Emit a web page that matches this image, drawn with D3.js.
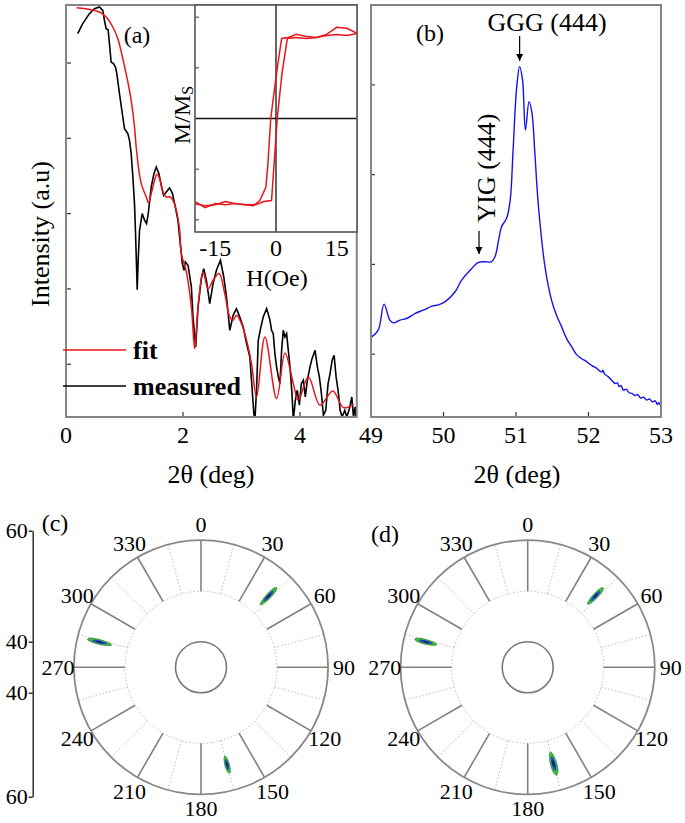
<!DOCTYPE html>
<html><head><meta charset="utf-8">
<script src="https://cdn.jsdelivr.net/npm/d3@7"></script>
<style>
body{margin:0;background:#fff;}
text{font-family:"Liberation Serif","Times New Roman",serif;fill:#000;}
</style></head>
<body><svg id="fig" width="685" height="823"></svg>
<script>
// ---------- DATA ----------
// Panel (a): X-ray reflectivity, 2θ (deg) vs log intensity
const fitX = [0.183,0.429,0.571,0.686,0.800,0.886,0.971,1.057,1.114,1.171,1.200,1.246,1.286,1.371,1.411,1.457,1.514,1.554,1.600,1.657,1.714,1.783,1.829,1.886,1.943,1.971,2.057,2.143,2.200,2.257,2.343,2.429,2.514,2.617,2.714,2.800,2.857,2.914,3.000,3.086,3.171,3.257,3.400,3.600,3.743,3.886,3.971,4.143,4.343,4.560,4.743,4.914];
const fitY = [5.735,5.708,5.677,5.611,5.478,5.323,5.058,4.748,4.504,4.150,3.885,3.575,3.398,3.221,3.146,3.265,3.442,3.522,3.465,3.288,3.221,3.221,3.177,3.044,2.779,2.469,2.226,1.761,1.208,1.761,2.226,2.004,2.115,2.204,1.938,1.628,1.584,1.650,1.540,1.319,1.009,0.566,1.363,0.544,1.150,0.743,0.522,0.832,0.456,0.646,0.425,0.469];
const measX = [0.200,0.286,0.400,0.486,0.571,0.629,0.657,0.686,0.720,0.743,0.771,0.811,0.846,0.869,0.914,0.971,1.000,1.057,1.086,1.114,1.143,1.171,1.189,1.206,1.217,1.234,1.257,1.303,1.343,1.377,1.406,1.457,1.503,1.543,1.589,1.629,1.669,1.714,1.771,1.817,1.857,1.914,1.954,1.989,2.017,2.040,2.086,2.143,2.171,2.217,2.257,2.314,2.354,2.400,2.457,2.514,2.571,2.640,2.697,2.743,2.800,2.857,2.914,2.971,3.029,3.086,3.143,3.171,3.211,3.229,3.257,3.286,3.326,3.371,3.429,3.463,3.486,3.514,3.543,3.571,3.600,3.629,3.657,3.686,3.714,3.743,3.771,3.800,3.829,3.863,3.886,3.920,3.954,3.989,4.023,4.057,4.091,4.126,4.171,4.206,4.257,4.297,4.331,4.366,4.400,4.440,4.480,4.514,4.549,4.583,4.617,4.651,4.686,4.720,4.766,4.800,4.846,4.886,4.914,4.943,4.960];
const measY = [5.389,5.522,5.655,5.721,5.743,5.699,5.566,5.456,5.442,5.257,5.013,4.991,4.947,4.858,4.593,4.283,4.128,4.062,3.973,3.796,3.487,3.133,2.735,2.292,1.991,2.381,2.779,3.000,2.912,2.867,3.000,3.354,3.531,3.619,3.531,3.376,3.243,3.288,3.341,3.274,3.133,2.912,2.602,2.336,2.248,2.358,2.314,2.027,1.628,1.230,1.761,2.137,2.270,2.115,1.805,2.071,2.248,2.381,2.159,1.894,1.451,1.650,1.739,1.628,1.496,1.274,1.097,0.788,0.345,0.257,0.655,1.319,1.473,1.628,1.739,1.650,1.584,1.451,1.407,1.142,0.965,0.832,0.743,1.186,1.451,1.363,1.407,1.186,0.965,0.611,0.257,0.522,0.655,0.456,0.743,0.788,0.566,0.788,0.965,1.075,1.186,0.965,0.832,0.611,0.323,0.389,0.743,0.876,1.053,1.119,0.832,0.655,0.389,0.301,0.389,0.301,0.412,0.566,0.301,0.434,0.257];
const aTicksX = [0, 2, 4];
const aTicksY = [1, 2, 3, 4, 5];

// Inset: hysteresis loop H (Oe) vs M/Ms
const descH = [20,17.5,15,12.5,10,7.5,5,3,1.4,0.5,-0.5,-1.3,-2,-2.5,-4,-5.6,-7.5,-10,-12.5,-15,-17.5,-20];
const descM = [0.84,0.89,0.90,0.83,0.80,0.81,0.83,0.80,0.79,0.55,0.25,0.0,-0.45,-0.68,-0.81,-0.86,-0.85,-0.84,-0.82,-0.85,-0.86,-0.84];
const ascH = [-20,-17.5,-15,-12.5,-10,-7.5,-5,-3,-1.1,0.3,1.5,2.8,5,7.5,10,12.5,15,17.5,20];
const ascM = [-0.82,-0.88,-0.84,-0.85,-0.84,-0.85,-0.85,-0.82,-0.81,0.0,0.45,0.79,0.80,0.79,0.80,0.82,0.83,0.82,0.84];
const insetTicksX = [-15, 0, 15];
const insetTicksY = [-1, -0.5, 0.5, 1];

// Panel (b): 2θ-ω scan near (444)
const bX = [49.01,49.10,49.18,49.26,49.31,49.40,49.50,49.61,49.72,49.84,49.93,50.02,50.16,50.25,50.39,50.48,50.57,50.66,50.71,50.76,50.80,50.87,50.92,50.96,51.01,51.05,51.09,51.13,51.18,51.22,51.26,51.31,51.40,51.49,51.56,51.63,51.70,51.77,51.83,51.90,51.95,52.00,52.05,52.10,52.14,52.18,52.20,52.22,52.27,52.32,52.37,52.40,52.42,52.45,52.48,52.52,52.56,52.60,52.64,52.68,52.72,52.76,52.80,52.84,52.88,52.92,52.95,52.97,52.99];
const bY = [1.193,1.268,1.557,1.379,1.349,1.38,1.40,1.454,1.49,1.535,1.55,1.583,1.695,1.825,1.955,2.022,2.030,2.029,2.085,2.271,2.419,2.513,2.717,3.274,3.980,4.203,4.055,3.497,3.813,3.687,3.241,2.642,1.973,1.602,1.43,1.304,1.17,1.081,1.00,0.952,0.93,0.90,0.87,0.85,0.822,0.80,0.82,0.78,0.75,0.71,0.673,0.68,0.64,0.65,0.60,0.61,0.57,0.562,0.54,0.55,0.51,0.52,0.49,0.50,0.47,0.48,0.44,0.46,0.431];
const bTicksX = [49, 50, 51, 52, 53];
const bTicksY = [1, 2, 3, 4];

// Panels (c), (d): pole figures (phi in deg, 2θ radial)
const polarAngles = [0,30,60,90,120,150,180,210,240,270,300,330];
const peakPhi = [43.5, 284, 165];
const peakValC = [53.5, 54.7, 54.0];
const peakHalfC = [2.2, 2.3, 1.65];
const peakWidC = [1.4, 1.3, 1.3];
const peakValD = [53.55, 54.8, 53.8];
const peakHalfD = [2.1, 2.1, 2.2];
const peakWidD = [1.4, 1.3, 1.8];
const contourLevels = [1.0, 0.62, 0.28];
const contourColors = ["#3cc43c", "#1f46c8", "#0a1560"];
const radialAxisTicks = [60, 40, -40, -60];

// ---------- DRAW ----------
const svg = d3.select("#fig");
const FONT = 24;
const frameCol = "#858585";

// ===== Panel (a) =====
const xA = d3.scaleLinear().domain([0, 4]).range([66, 300]);
const yA = d3.scaleLinear().domain([0.3, 5.77]).range([417, 5]);
const aL = 66, aR = xA(4.97), aT = 5, aB = 417;
svg.append("clipPath").attr("id","clipA").append("rect")
  .attr("x", aL).attr("y", aT).attr("width", aR-aL).attr("height", aB-aT);
const gA = svg.append("g");
const lineA = d3.line().x(d => xA(d[0])).y(d => yA(d[1]));
gA.append("path").datum(measX.map((v,i)=>[v, measY[i]]))
  .attr("d", lineA).attr("fill","none").attr("stroke","#000").attr("stroke-width",1.6)
  .attr("clip-path","url(#clipA)");
gA.append("path").datum(fitX.map((v,i)=>[v, fitY[i]]))
  .attr("d", lineA.curve(d3.curveCatmullRom.alpha(0.5))).attr("fill","none").attr("stroke","#e8141c").attr("stroke-width",1.5)
  .attr("clip-path","url(#clipA)");
// ticks inward
gA.selectAll(".ty").data(aTicksY).join("line")
  .attr("x1", aL).attr("x2", aL+5).attr("y1", d=>yA(d)).attr("y2", d=>yA(d)).attr("stroke","#333").attr("stroke-width",1.2);
gA.selectAll(".tx").data(aTicksX).join("line")
  .attr("x1", d=>xA(d)).attr("x2", d=>xA(d)).attr("y1", aB).attr("y2", aB-5).attr("stroke","#333").attr("stroke-width",1.2);
gA.selectAll(".lx").data(aTicksX).join("text")
  .attr("x", d=>xA(d)).attr("y", 435).attr("text-anchor","middle").attr("dominant-baseline","central")
  .attr("font-size", FONT).text(d=>d);
gA.append("rect").attr("x", aL).attr("y", aT).attr("width", aR-aL).attr("height", aB-aT)
  .attr("fill","none").attr("stroke", frameCol).attr("stroke-width",2);
gA.append("text").attr("transform","translate(40,234) rotate(-90)").attr("text-anchor","middle")
  .attr("dominant-baseline","central").attr("font-size",26).text("Intensity (a.u)");
gA.append("text").attr("x", 211).attr("y", 474).attr("text-anchor","middle").attr("dominant-baseline","central")
  .attr("font-size",26).text("2θ (deg)");
gA.append("text").attr("x", 137).attr("y", 35).attr("text-anchor","middle").attr("dominant-baseline","central")
  .attr("font-size",FONT).text("(a)");
// legend
gA.append("line").attr("x1",63).attr("x2",126).attr("y1",350).attr("y2",350).attr("stroke","#e8141c").attr("stroke-width",1.5);
gA.append("text").attr("x",133).attr("y",350).attr("dominant-baseline","central").attr("font-size",26).attr("font-weight","bold").text("fit");
gA.append("line").attr("x1",63).attr("x2",126).attr("y1",386).attr("y2",386).attr("stroke","#000").attr("stroke-width",1.5);
gA.append("text").attr("x",133).attr("y",386).attr("dominant-baseline","central").attr("font-size",26).attr("font-weight","bold").text("measured");

// ===== Inset =====
const xI = d3.scaleLinear().domain([-20, 20]).range([195, 357]);
const yI = d3.scaleLinear().domain([-1.12, 1.12]).range([232, 5]);
const gI = svg.append("g");
gI.append("rect").attr("x", 195).attr("y", 5).attr("width", 162).attr("height", 227).attr("fill","#fff");
svg.append("clipPath").attr("id","clipI").append("rect").attr("x",195).attr("y",5).attr("width",162).attr("height",227);
gI.append("line").attr("x1", xI(0)).attr("x2", xI(0)).attr("y1", yI(1.12)).attr("y2", yI(-1.12)).attr("stroke","#111").attr("stroke-width",1.3);
gI.append("line").attr("x1", xI(-20)).attr("x2", xI(20)).attr("y1", yI(0)).attr("y2", yI(0)).attr("stroke","#111").attr("stroke-width",1.3);
const lineI = d3.line().x(d=>xI(d[0])).y(d=>yI(d[1]));
gI.append("path").datum(descH.map((h,i)=>[h, descM[i]])).attr("d", lineI)
  .attr("fill","none").attr("stroke","#e8141c").attr("stroke-width",1.5).attr("clip-path","url(#clipI)");
gI.append("path").datum(ascH.map((h,i)=>[h, ascM[i]])).attr("d", lineI)
  .attr("fill","none").attr("stroke","#e8141c").attr("stroke-width",1.5).attr("clip-path","url(#clipI)");
gI.selectAll(".ity").data(insetTicksY).join("line")
  .attr("x1", 195).attr("x2", 199).attr("y1", d=>yI(d)).attr("y2", d=>yI(d)).attr("stroke","#333");
gI.append("rect").attr("x", 195).attr("y", 5).attr("width", 162).attr("height", 227)
  .attr("fill","none").attr("stroke","#555").attr("stroke-width",1.6);
gI.selectAll(".ilx").data(insetTicksX).join("text")
  .attr("x", d=>xI(d)).attr("y", 248).attr("text-anchor","middle").attr("dominant-baseline","central")
  .attr("font-size",FONT).text(d=>d);
gI.append("text").attr("x", 277).attr("y", 278).attr("text-anchor","middle").attr("dominant-baseline","central")
  .attr("font-size",FONT).text("H(Oe)");
const mt = gI.append("text").attr("transform","translate(182,115) rotate(-90)").attr("text-anchor","middle")
  .attr("dominant-baseline","central").attr("font-size",FONT);
mt.append("tspan").text("M/M");
mt.append("tspan").attr("font-size",16).attr("dy",5).text("S");

// ===== Panel (b) =====
const xB = d3.scaleLinear().domain([49, 53]).range([371, 661]);
const yB = d3.scaleLinear().domain([0.3, 4.89]).range([417, 5]);
const gB = svg.append("g");
svg.append("clipPath").attr("id","clipB").append("rect").attr("x",371).attr("y",5).attr("width",290).attr("height",412);
gB.append("path").datum(bX.map((v,i)=>[v, bY[i]]))
  .attr("d", d3.line().x(d=>xB(d[0])).y(d=>yB(d[1])).curve(d3.curveCatmullRom.alpha(0.5)))
  .attr("fill","none").attr("stroke","#1414e6").attr("stroke-width",1.4).attr("clip-path","url(#clipB)");
gB.selectAll(".bty").data(bTicksY).join("line")
  .attr("x1", 371).attr("x2", 375).attr("y1", d=>yB(d)).attr("y2", d=>yB(d)).attr("stroke","#333").attr("stroke-width",1.2);
gB.selectAll(".btx").data(bTicksX.slice(1,-1)).join("line")
  .attr("x1", d=>xB(d)).attr("x2", d=>xB(d)).attr("y1", 417).attr("y2", 412).attr("stroke","#333").attr("stroke-width",1.2);
gB.append("rect").attr("x",371).attr("y",5).attr("width",290).attr("height",412)
  .attr("fill","none").attr("stroke",frameCol).attr("stroke-width",2);
gB.selectAll(".blx").data(bTicksX).join("text")
  .attr("x", d=>xB(d)).attr("y", 435).attr("text-anchor","middle").attr("dominant-baseline","central")
  .attr("font-size",FONT).text(d=>d);
gB.append("text").attr("x", 517).attr("y", 474).attr("text-anchor","middle").attr("dominant-baseline","central")
  .attr("font-size",26).text("2θ (deg)");
gB.append("text").attr("x", 430).attr("y", 33).attr("text-anchor","middle").attr("dominant-baseline","central")
  .attr("font-size",FONT).text("(b)");
gB.append("text").attr("x", 547).attr("y", 22).attr("text-anchor","middle").attr("dominant-baseline","central")
  .attr("font-size",26).text("GGG (444)");
gB.append("text").attr("transform","translate(486,168) rotate(-90)").attr("text-anchor","middle")
  .attr("dominant-baseline","central").attr("font-size",26).text("YIG (444)");
svg.append("defs").append("marker").attr("id","arr").attr("viewBox","0 0 10 10").attr("refX",10).attr("refY",5)
  .attr("markerWidth",7).attr("markerHeight",9).attr("orient","auto").attr("markerUnits","userSpaceOnUse")
  .append("path").attr("d","M0,0 L10,5 L0,10 z").attr("fill","#000");
gB.append("line").attr("x1", xB(51.05)).attr("x2", xB(51.05)).attr("y1", 36).attr("y2", 61)
  .attr("stroke","#000").attr("stroke-width",1.2).attr("marker-end","url(#arr)");
gB.append("line").attr("x1", xB(50.49)).attr("x2", xB(50.49)).attr("y1", 231).attr("y2", 254)
  .attr("stroke","#000").attr("stroke-width",1.2).attr("marker-end","url(#arr)");

// ===== Polar panels =====
const rS = d3.scaleLinear().domain([40, 60]).range([25.5, 133]);
const outerVal = 58.9, midVal = 49.4, innerVal = 40;
function polarPanel(cx, cy, label, labelPos, peakVal, peakHalf, peakWid) {
  const g = svg.append("g");
  const px = (phi, v) => cx + rS(v)*Math.sin(phi*Math.PI/180);
  const py = (phi, v) => cy - rS(v)*Math.cos(phi*Math.PI/180);
  const minor = d3.range(15, 360, 30);
  g.selectAll(".minor").data(minor).join("line")
    .attr("x1", d=>px(d, midVal)).attr("y1", d=>py(d, midVal)).attr("x2", d=>px(d, outerVal)).attr("y2", d=>py(d, outerVal))
    .attr("stroke","#b5b5b5").attr("stroke-width",0.9).attr("stroke-dasharray","1.5,2");
  g.append("circle").attr("cx",cx).attr("cy",cy).attr("r", rS(midVal)).attr("fill","none")
    .attr("stroke","#b5b5b5").attr("stroke-width",0.9).attr("stroke-dasharray","1.5,2");
  g.selectAll(".major").data(polarAngles).join("line")
    .attr("x1", d=>px(d, midVal)).attr("y1", d=>py(d, midVal)).attr("x2", d=>px(d, outerVal)).attr("y2", d=>py(d, outerVal))
    .attr("stroke","#808080").attr("stroke-width",1.6);
  g.append("circle").attr("cx",cx).attr("cy",cy).attr("r", rS(outerVal)).attr("fill","none")
    .attr("stroke","#888").attr("stroke-width",1.8);
  g.append("circle").attr("cx",cx).attr("cy",cy).attr("r", rS(innerVal)).attr("fill","none")
    .attr("stroke","#777").attr("stroke-width",1.6);
  // peaks as contour rings
  const ts = d3.range(0, 2*Math.PI, Math.PI/24);
  peakPhi.forEach((phi, i) => {
    contourLevels.forEach((lv, k) => {
      const pts = ts.map(t => {
        const v = peakVal[i] + peakHalf[i]*lv*Math.cos(t);
        const a = phi + peakWid[i]*lv*Math.sin(t);
        return [px(a, v), py(a, v)];
      });
      g.append("path").attr("d", d3.line().curve(d3.curveLinearClosed)(pts))
        .attr("fill", contourColors[k]).attr("stroke", k===0 ? "#1d5a1d" : "none").attr("stroke-width",0.6);
    });
  });
  g.selectAll(".al").data(polarAngles).join("text")
    .attr("x", d=>cx + 143*Math.sin(d*Math.PI/180)).attr("y", d=>cy - 143*Math.cos(d*Math.PI/180) - (d===180 ? 2 : 0))
    .attr("text-anchor","middle").attr("dominant-baseline","central").attr("font-size",22).text(d=>d);
  g.append("text").attr("x", labelPos[0]).attr("y", labelPos[1]).attr("text-anchor","middle").attr("dominant-baseline","central")
    .attr("font-size",FONT).text(label);
}
polarPanel(201, 667.3, "(c)", [55, 523], peakValC, peakHalfC, peakWidC);
polarPanel(527.7, 667.3, "(d)", [385, 534], peakValD, peakHalfD, peakWidD);

// Left radial axis for (c)
const yAx = d3.scaleLinear().domain([60, 40, -40, -60]).range([530.7, 641.7, 692.7, 796.7]);
const gAx = svg.append("g").attr("transform","translate(32.7,0)")
  .call(d3.axisLeft(yAx).tickValues(radialAxisTicks).tickSize(4).tickSizeOuter(0).tickFormat(d=>Math.abs(d)));
gAx.select(".domain").attr("stroke","#222").attr("stroke-width",1.4);
gAx.selectAll(".tick line").attr("stroke","#222").attr("stroke-width",1.4);
gAx.selectAll(".tick text").attr("font-size",22).attr("font-family","Liberation Serif, Times New Roman, serif").attr("fill","#000").attr("x",-5);
</script></body></html>
